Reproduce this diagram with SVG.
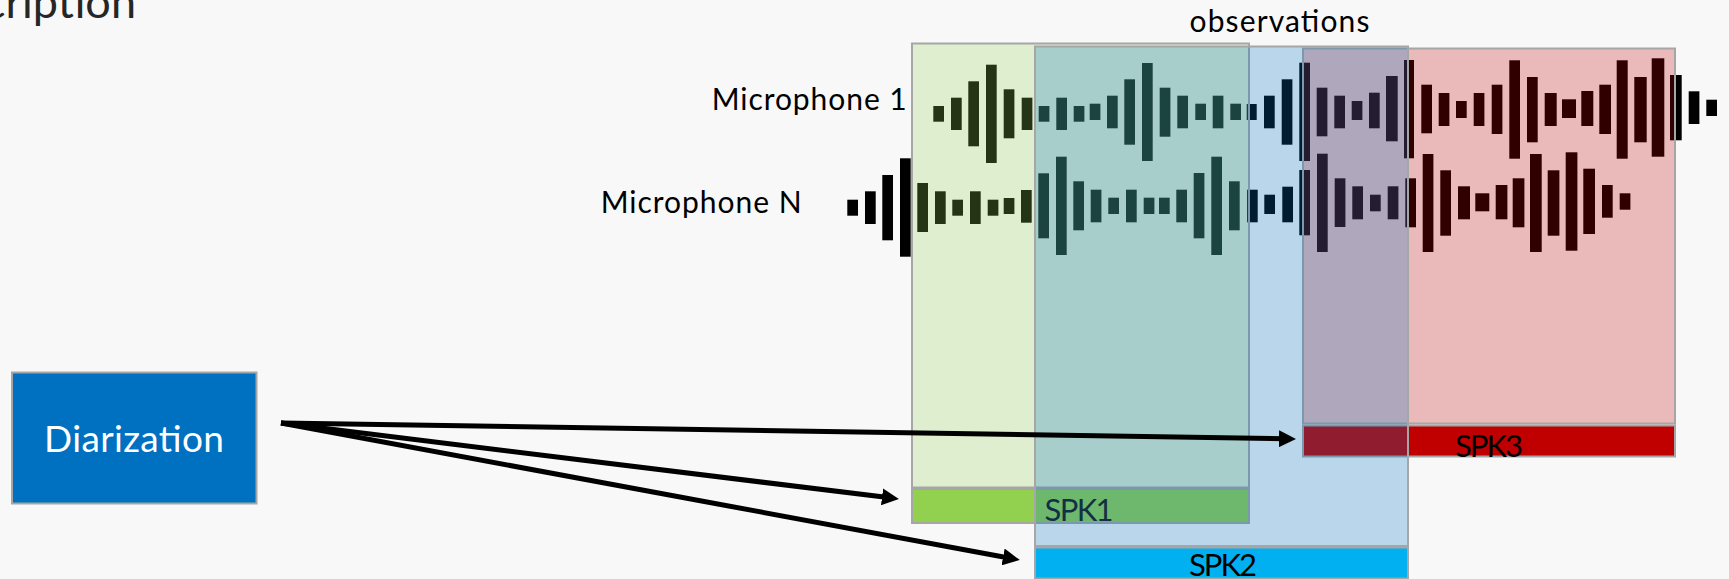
<svg xmlns="http://www.w3.org/2000/svg" width="1729" height="579" viewBox="0 0 1729 579">
  <style>
    .txt { font-family: Lato, "Open Sans", "Liberation Sans", sans-serif; fill: #000; }
    .wave rect { fill: #000; width: 10.7px; }
    .frame { stroke: #a6a6a6; stroke-width: 2; }
    .conn { stroke: #000; stroke-width: 5; fill: none; marker-end: url(#head); }
  </style>
  <defs>
    <marker id="head" markerWidth="17" markerHeight="17" refX="6" refY="8.5" orient="auto" markerUnits="userSpaceOnUse">
      <path d="M0,0 L17,8.5 L0,17 z" fill="#000"/>
    </marker>
  </defs>

  <rect x="0" y="0" width="1729" height="579" fill="#f8f8f8"/>

  <!-- slide title, cut at the left edge -->
  <text id="title" class="txt" x="136" y="17.5" font-size="45" text-anchor="end" style="fill:#262626">cription</text>

  <g id="observations">
    <text class="txt" x="1189.5" y="32.3" font-size="30" textLength="180">observations</text>
  </g>

  <g id="mic1-label">
    <text class="txt" x="711.7" y="110" font-size="30" textLength="195">Microphone 1</text>
  </g>
  <g id="micN-label">
    <text class="txt" x="600.7" y="213.3" font-size="30" textLength="201">Microphone N</text>
  </g>

  <!-- waveform of microphone 1 -->
  <g id="wave-mic1" class="wave">
    <rect x="933.3" y="106" height="15.7"/>
    <rect x="951" y="97.7" height="32.3"/>
    <rect x="968.3" y="81.3" height="65"/>
    <rect x="986" y="64.7" height="98.3"/>
    <rect x="1003.7" y="89.3" height="49"/>
    <rect x="1021.7" y="97.7" height="32.3"/>
    <rect x="1038.7" y="106" height="15.7"/>
    <rect x="1056.3" y="97.7" height="32.3"/>
    <rect x="1073.7" y="106" height="15.7"/>
    <rect x="1089.7" y="103.7" height="16.3"/>
    <rect x="1107" y="95.7" height="32.6"/>
    <rect x="1124.3" y="79.3" height="65.4"/>
    <rect x="1142" y="63" height="98"/>
    <rect x="1159.7" y="87.7" height="49"/>
    <rect x="1177.3" y="95.7" height="32.6"/>
    <rect x="1195.3" y="103.7" height="16.3"/>
    <rect x="1212.7" y="95.7" height="32.6"/>
    <rect x="1230.3" y="103.7" height="16.3"/>
    <rect x="1246.7" y="104" height="16" style="width:10px"/>
    <rect x="1264" y="95.7" height="32.6"/>
    <rect x="1281.7" y="79.3" height="65.4"/>
    <rect x="1299.3" y="62.7" height="98.3"/>
    <rect x="1316.7" y="87.7" height="48.6"/>
    <rect x="1334.3" y="95.7" height="32.6"/>
    <rect x="1351.7" y="101" height="19"/>
    <rect x="1369" y="92.7" height="35.6"/>
    <rect x="1386" y="76" height="65.3" style="width:11.7px"/>
    <rect x="1404" y="60" height="98.3" style="width:10px"/>
    <rect x="1421.3" y="84.7" height="48.6"/>
    <rect x="1438.7" y="93" height="33"/>
    <rect x="1456" y="101" height="17"/>
    <rect x="1473.7" y="93" height="33"/>
    <rect x="1491.7" y="84.7" height="49.3"/>
    <rect x="1509.3" y="60.3" height="98.4"/>
    <rect x="1527" y="77" height="65.3"/>
    <rect x="1544.7" y="93" height="33" style="width:12px"/>
    <rect x="1562" y="99.3" height="18.7" style="width:14px"/>
    <rect x="1581.3" y="91" height="35" style="width:12px"/>
    <rect x="1599.3" y="84.7" height="49.3" style="width:11.7px"/>
    <rect x="1616.7" y="60.3" height="98.4" style="width:11px"/>
    <rect x="1634.3" y="77" height="65.3" style="width:12.4px"/>
    <rect x="1651.7" y="58.3" height="98.4" style="width:12.6px"/>
    <rect x="1670" y="75" height="65.3" style="width:11.7px"/>
    <rect x="1688.7" y="91.3" height="32.7"/>
    <rect x="1706.3" y="99.7" height="16.3"/>
  </g>

  <!-- waveform of microphone N -->
  <g id="wave-micN" class="wave">
    <rect x="847.3" y="199.7" height="16"/>
    <rect x="865" y="191.3" height="32.7"/>
    <rect x="882.3" y="175" height="65.3"/>
    <rect x="900" y="158.3" height="98.4"/>
    <rect x="917.3" y="183" height="49"/>
    <rect x="935" y="191.3" height="32.7"/>
    <rect x="952.3" y="199.7" height="16"/>
    <rect x="970" y="191.3" height="32.7"/>
    <rect x="987.7" y="199.7" height="16"/>
    <rect x="1003.7" y="198" height="16"/>
    <rect x="1021" y="190" height="32.7"/>
    <rect x="1038.3" y="173.3" height="65"/>
    <rect x="1056" y="156.7" height="98.3"/>
    <rect x="1073.3" y="181.3" height="49"/>
    <rect x="1090.7" y="189.7" height="32.6"/>
    <rect x="1108.3" y="197.7" height="16.3"/>
    <rect x="1126" y="189.7" height="32.6"/>
    <rect x="1143.7" y="197.7" height="16.3"/>
    <rect x="1159" y="197.7" height="16.3"/>
    <rect x="1176.3" y="189.7" height="32.6"/>
    <rect x="1193.7" y="173" height="65.3"/>
    <rect x="1211.3" y="156.7" height="98.3"/>
    <rect x="1229" y="181.3" height="49"/>
    <rect x="1247" y="189.7" height="32.6"/>
    <rect x="1264.3" y="194.7" height="19.3"/>
    <rect x="1282.3" y="186.7" height="35.6"/>
    <rect x="1299.3" y="170" height="65.3"/>
    <rect x="1317" y="153.7" height="98.3"/>
    <rect x="1334.7" y="178.3" height="48.7"/>
    <rect x="1352.3" y="186.3" height="33"/>
    <rect x="1370" y="194.7" height="16.6"/>
    <rect x="1387.7" y="186.3" height="33"/>
    <rect x="1405.3" y="178.3" height="49"/>
    <rect x="1422.7" y="154" height="98"/>
    <rect x="1440.3" y="170.3" height="65.4"/>
    <rect x="1458" y="186.3" height="33" style="width:12px"/>
    <rect x="1475.3" y="193.3" height="18" style="width:14px"/>
    <rect x="1495.7" y="185" height="34.3" style="width:11.7px"/>
    <rect x="1512.7" y="178.3" height="49" style="width:11.7px"/>
    <rect x="1530" y="154" height="98" style="width:11.7px"/>
    <rect x="1547.7" y="170.3" height="65.4" style="width:11.7px"/>
    <rect x="1565.7" y="152.3" height="98.4" style="width:11.7px"/>
    <rect x="1583.3" y="168.7" height="65.3" style="width:11.7px"/>
    <rect x="1602" y="185" height="32.7"/>
    <rect x="1619.7" y="193.3" height="16.4"/>
  </g>

  <!-- speaker 1 segment -->
  <g id="spk1">
    <rect class="frame" x="912" y="43.5" width="337" height="444" fill="#92d050" fill-opacity="0.25"/>
    <rect class="frame" x="912" y="489" width="337" height="34" fill="#92d050"/>
    <text class="txt" x="1044.5" y="521" font-size="31" textLength="69" style="fill:#1a1a1a">SPK1</text>
  </g>

  <!-- speaker 3 segment -->
  <g id="spk3">
    <rect class="frame" x="1303" y="48.5" width="372" height="375" fill="#c00000" fill-opacity="0.25"/>
    <rect class="frame" x="1303" y="425.5" width="372" height="31" fill="#c00000"/>
    <text class="txt" x="1455" y="456.7" font-size="31" textLength="68">SPK3</text>
  </g>

  <!-- speaker 2 segment, drawn last so it tints the overlaps -->
  <g id="spk2">
    <rect class="frame" x="1035" y="46.5" width="373" height="499.5" fill="#0070c0" fill-opacity="0.25"/>
    <rect class="frame" x="1035" y="547.5" width="373" height="31" fill="#00b0f0"/>
    <text class="txt" x="1223" y="575.6" font-size="31" text-anchor="middle" textLength="68">SPK2</text>
  </g>

  <g id="connectors">
    <line class="conn" x1="281" y1="423" x2="1285" y2="438.8"/>
    <line class="conn" x1="281" y1="423" x2="888" y2="497.6"/>
    <line class="conn" x1="281" y1="423" x2="1009" y2="558"/>
  </g>

  <g id="diarization">
    <rect class="frame" x="12" y="372.5" width="244.5" height="131" fill="#0070c0"/>
    <text class="txt" x="134" y="451.5" font-size="37" text-anchor="middle" textLength="180" style="fill:#fff">Diarization</text>
  </g>
</svg>
